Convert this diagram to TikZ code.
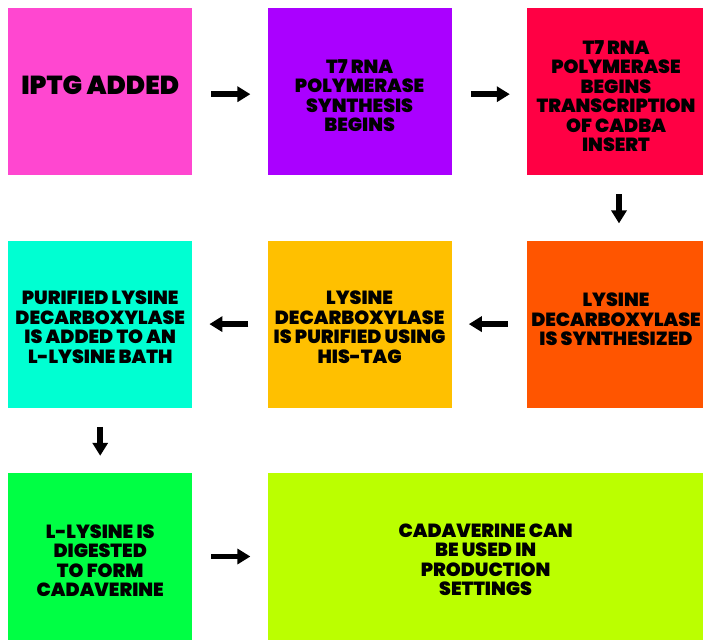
\documentclass[tikz,border=0pt]{standalone}
\usepackage{fontspec}
\setmainfont{Poppins}[BoldFont={Poppins Black}]
\usetikzlibrary{positioning,arrows.meta}
\definecolor{pinkIPTG}{HTML}{FF47D0}
\definecolor{purpleSyn}{HTML}{AA00FF}
\definecolor{redTrans}{HTML}{FF0044}
\definecolor{orangeSyn}{HTML}{FF5500}
\definecolor{amberPur}{HTML}{FFC000}
\definecolor{cyanBath}{HTML}{00FFD2}
\definecolor{greenDig}{HTML}{00FF44}
\definecolor{limeProd}{HTML}{BBFF00}

\begin{document}
\begin{tikzpicture}[x=1pt, y=1pt,
    box/.style={minimum height=167pt, minimum width=184pt, inner sep=0pt,
                align=center, text=black,
                font=\bfseries\fontsize{19}{19.5}\selectfont},
    arr/.style={line width=5.5pt, -{Triangle[length=13pt,width=15pt]},
                shorten <=19pt, shorten >=17pt},
    node distance=65pt and 75pt
]
    \useasboundingbox (0,0) rectangle (703,-639);
    % first row
    \node[box, fill=pinkIPTG, anchor=north west, text depth=12pt,
          font=\bfseries\fontsize{26}{27}\selectfont] (iptg) at (8,-8) {IPTG ADDED};
    \node[box, fill=purpleSyn, right=of iptg, text height=80.7pt] (t7syn) {T7 RNA\\POLYMERASE\\SYNTHESIS\\BEGINS};
    \node[box, fill=redTrans, right=of t7syn, minimum width=178pt, text height=120.7pt] (t7trans) {T7 RNA\\POLYMERASE\\BEGINS\\TRANSCRIPTION\\OF CADBA\\INSERT};
    % second row
    \node[box, fill=cyanBath, below=of iptg, text height=78.7pt] (bath) {PURIFIED LYSINE\\DECARBOXYLASE\\IS ADDED TO AN\\L-LYSINE BATH};
    \node[box, fill=amberPur, right=of bath, text height=78.7pt] (purify) {LYSINE\\DECARBOXYLASE\\IS PURIFIED USING\\HIS-TAG};
    \node[box, fill=orangeSyn, right=of purify, minimum width=178pt, text depth=9pt] (ldsyn) {LYSINE\\DECARBOXYLASE\\IS SYNTHESIZED};
    % third row
    \node[box, fill=greenDig, below=of bath, text height=80.7pt] (digest) {L-LYSINE IS\\DIGESTED\\TO FORM\\CADAVERINE};
    \node[box, fill=limeProd, right=of digest, minimum width=436pt, text height=79pt] (prod) {CADAVERINE CAN\\BE USED IN\\PRODUCTION\\SETTINGS};
    % arrows
    \draw[arr] ([yshift=-2.5pt]iptg.east) -- ([yshift=-2.5pt]t7syn.west);
    \draw[arr] ([yshift=-2.5pt]t7syn.east) -- ([yshift=-2.5pt]t7trans.west);
    \draw[arr] ([xshift=3pt]t7trans.south) -- ([xshift=3pt]ldsyn.north);
    \draw[arr] (ldsyn) -- (purify);
    \draw[arr] (purify) -- (bath);
    \draw[arr] (bath) -- (digest);
    \draw[arr] (digest) -- (prod);
\end{tikzpicture}
\end{document}
